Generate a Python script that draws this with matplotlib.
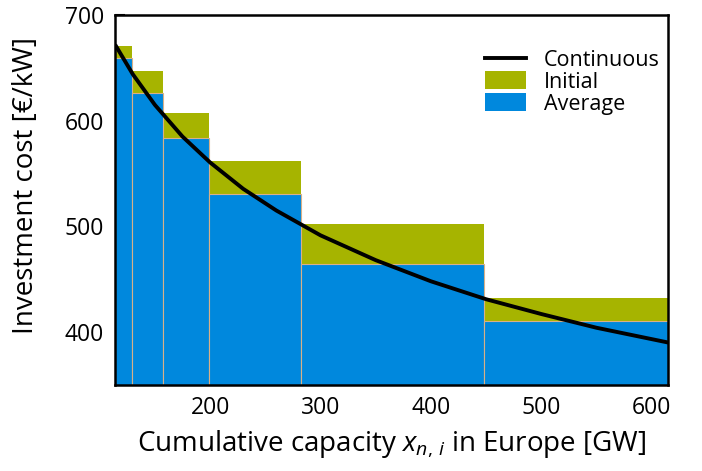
import numpy as np
import matplotlib
matplotlib.use("Agg")
import matplotlib.pyplot as plt
from matplotlib.patches import Patch
from matplotlib.lines import Line2D

plt.rcParams["font.family"] = ["Open Sans", "DejaVu Sans"]
plt.rcParams["mathtext.fontset"] = "custom"
plt.rcParams["mathtext.it"] = "Open Sans:italic"
plt.rcParams["mathtext.rm"] = "Open Sans"

# step boundaries [GW] and per-step costs [EUR/kW]
step_edges = [114, 129, 157, 199, 282, 448, 615]
initial_cost = [671, 647, 607, 562, 502, 432]
average_cost = [659, 626, 584, 531, 464, 410]

# continuous learning curve, sampled
curve_x = [114, 130, 150, 175, 200, 230, 260, 300, 350, 400, 450, 500, 550, 615]
curve_y = [672, 644, 615, 585, 560.5, 535.5, 515, 491.5, 468, 448, 431, 417, 404, 390]

GREEN = "#a6b400"
BLUE = "#0088dd"
EDGE = "#d8b088"

fig = plt.figure(figsize=(7.02, 4.71), dpi=100)
ax = fig.add_axes([0.164, 0.183, 0.788, 0.785])

left = np.array(step_edges[:-1])
width = np.diff(step_edges)
ax.bar(left, initial_cost, width=width, align="edge", color=GREEN,
       linewidth=0, zorder=1)
ax.bar(left, average_cost, width=width, align="edge", color=BLUE,
       edgecolor=EDGE, linewidth=0.8, zorder=2)
ax.plot(curve_x, curve_y, color="black", lw=2.8, zorder=3,
        solid_capstyle="butt")

ax.set_xlim(114, 615)
ax.set_ylim(350, 700)
ax.set_xticks([200, 300, 400, 500, 600])
ax.set_yticks([400, 500, 600, 700])
ax.tick_params(direction="in", length=7, width=1.5, labelsize=16.5)
ax.tick_params(axis="x", pad=8)
ax.tick_params(axis="y", pad=8)
for s in ax.spines.values():
    s.set_linewidth(1.8)

ax.set_ylabel("Investment cost [€/kW]", fontsize=20)
ax.yaxis.set_label_coords(-0.136, 0.54)
ax.set_xlabel(r"Cumulative capacity $x_{n,\,i}$ in Europe [GW]",
              fontsize=20, labelpad=6)

handles = [Line2D([], [], color="black", lw=2.8),
           Patch(facecolor=GREEN, edgecolor="none"),
           Patch(facecolor=BLUE, edgecolor="none")]
ax.legend(handles, ["Continuous", "Initial", "Average"], loc="upper right",
          bbox_to_anchor=(1.0, 0.93), frameon=False, fontsize=15.5,
          handlelength=1.9, handleheight=0.9, labelspacing=0.02,
          handletextpad=0.85, borderaxespad=0.0)

fig.savefig("out.png", dpi=100)
